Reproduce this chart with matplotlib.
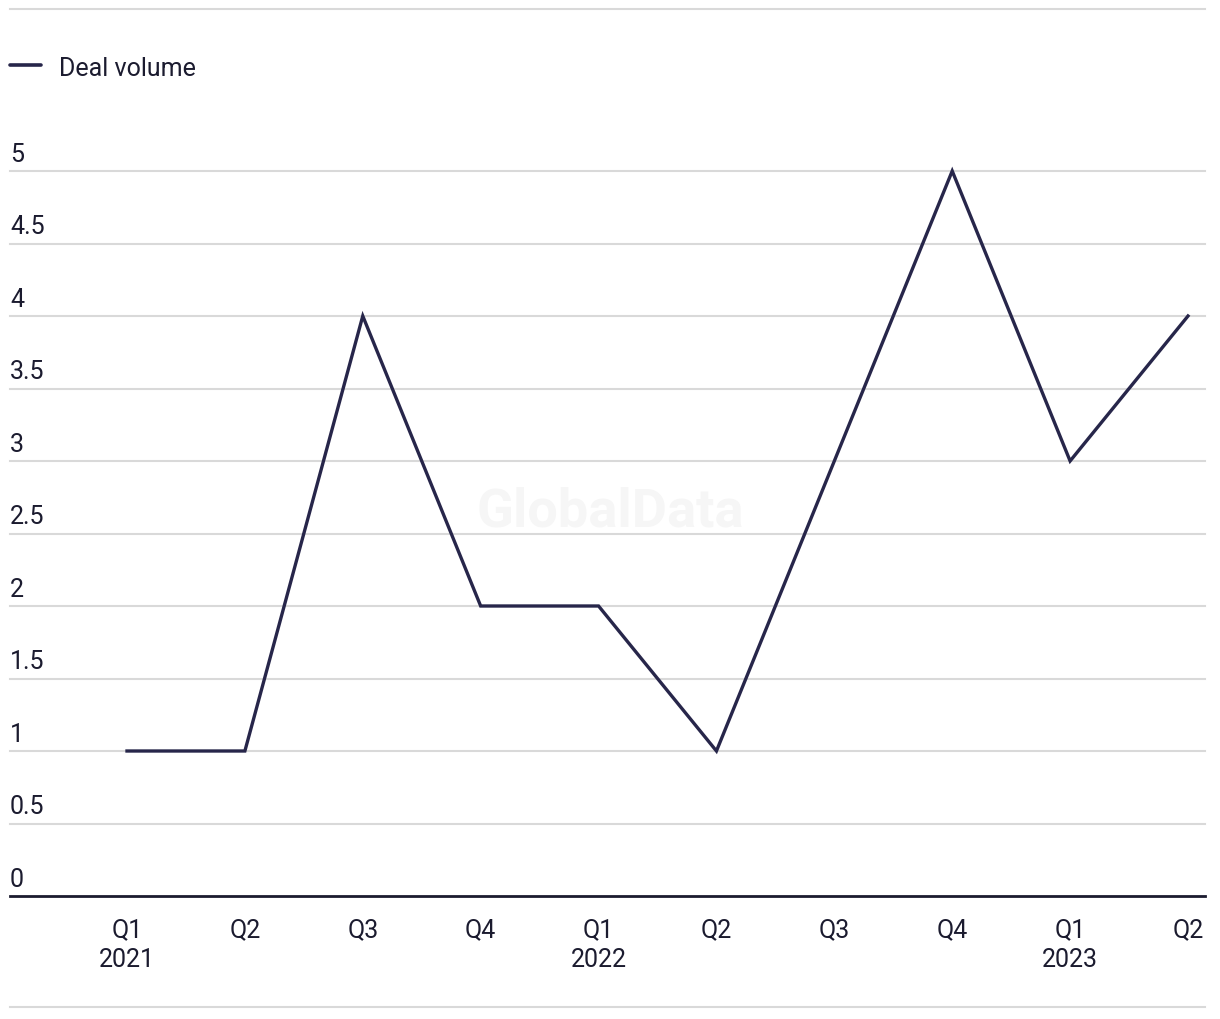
import matplotlib.pyplot as plt
import matplotlib.transforms as mtransforms
from matplotlib.lines import Line2D

# ==================== DATA ====================
quarters = ["Q1", "Q2", "Q3", "Q4", "Q1", "Q2", "Q3", "Q4", "Q1", "Q2"]
years = ["2021", "", "", "", "2022", "", "", "", "2023", ""]
deal_volume = [1, 1, 4, 2, 2, 1, 3, 5, 3, 4]
y_ticks = [0, 0.5, 1, 1.5, 2, 2.5, 3, 3.5, 4, 4.5, 5]
series_name = "Deal volume"
# ==============================================

LINE_COLOR = "#27264a"
TEXT_COLOR = "#1b1b2f"
GRID_COLOR = "#d9d9d9"
FS = 18
plt.rcParams["font.family"] = ["Roboto", "DejaVu Sans"]

W, H = 1220, 1020
fig = plt.figure(figsize=(W / 100, H / 100), dpi=100)

# Achsen-Position in Pixeln
left_px, right_px = 10, 1205
bottom_px, top_px = 897, 172
ax = fig.add_axes([left_px / W, (H - bottom_px) / H,
                   (right_px - left_px) / W, (bottom_px - top_px) / H])

x = list(range(len(deal_volume)))
step = (1188 - 127) / 9
ax.set_xlim(-(127 - left_px) / step, 9 + (right_px - 1188) / step)
ax.set_ylim(0, 5)

# Gitterlinien
for v in y_ticks[1:]:
    ax.axhline(v, color=GRID_COLOR, lw=1.5, zorder=1, clip_on=False)
ax.axhline(0, color=TEXT_COLOR, lw=2, zorder=3, clip_on=False)

ax.plot(x, deal_volume, color=LINE_COLOR, lw=2.4, zorder=4,
        clip_on=False, solid_joinstyle="miter")

for s in ax.spines.values():
    s.set_visible(False)
ax.set_xticks([])
ax.set_yticks([])

# Y-Beschriftungen oberhalb der Gitterlinien
trans = mtransforms.blended_transform_factory(ax.transAxes, ax.transData)
offset = mtransforms.offset_copy(trans, fig=fig, x=0, y=10, units="dots")
for v in y_ticks:
    ax.text(0, v, f"{v:g}", transform=offset, ha="left", va="baseline",
            fontsize=FS, color=TEXT_COLOR)

# X-Beschriftungen
xtrans = mtransforms.blended_transform_factory(ax.transData, fig.transFigure)
for i, (q, yr) in enumerate(zip(quarters, years)):
    ax.text(i, 1 - 930 / H, q, transform=xtrans, ha="center", va="center",
            fontsize=FS, color=TEXT_COLOR)
    if yr:
        ax.text(i, 1 - 960 / H, yr, transform=xtrans, ha="center", va="center",
                fontsize=FS, color=TEXT_COLOR)

# Legende
fig.add_artist(Line2D([10 / W, 41 / W], [1 - 66 / H, 1 - 66 / H],
                      color=LINE_COLOR, lw=2.6, solid_capstyle="round"))
fig.text(59 / W, 1 - 67 / H, series_name, ha="left", va="center_baseline",
         fontsize=FS, color=TEXT_COLOR)

# Rahmenlinien oben und unten
for yy in (10, 1008):
    fig.add_artist(Line2D([10 / W, 1205 / W], [1 - yy / H, 1 - yy / H],
                          color=GRID_COLOR, lw=1.5))

# Wasserzeichen
fig.text(610 / W, 1 - 512 / H, "GlobalData", ha="center", va="center",
         fontsize=39, fontweight="bold", color="#f6f6f6", zorder=0)

fig.savefig("out.png", dpi=100, facecolor="white")
